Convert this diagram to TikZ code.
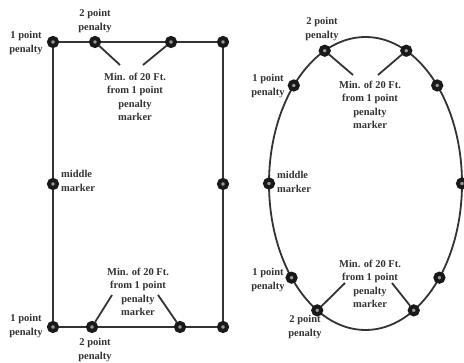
\documentclass[tikz,border=0pt]{standalone}
\usepackage{fontspec}
\setmainfont{Liberation Serif}
\begin{document}
\begin{tikzpicture}[x=1pt,y=-1pt,
  mk/.style={circle,draw=black!90,line width=4pt,fill=black!40,minimum size=8pt,inner sep=0pt},
  lbl/.style={align=center,inner sep=0pt,text=black!80,font=\fontsize{10.5}{13.3}\selectfont\bfseries},
  lbll/.style={lbl,align=left,anchor=west},
  fld/.style={draw=black!80,line width=1.8pt},
  ldr/.style={draw=black!80,line width=1.8pt}]
\useasboundingbox (0,0) rectangle (464,363);
% ---------- rectangle field ----------
\node[mk] (tl) at (53,42) {};
\node[mk] (t1) at (95,42) {};
\node[mk] (t2) at (171,42) {};
\node[mk] (tr) at (223,42) {};
\node[mk] (ml) at (53,184) {};
\node[mk] (mr) at (223,184) {};
\node[mk] (bl) at (53,327) {};
\node[mk] (b1) at (92,327) {};
\node[mk] (b2) at (180,327) {};
\node[mk] (br) at (223,327) {};
\path[fld] (tl) -- (t1) -- (t2) -- (tr) -- (mr) -- (br) -- (b2) -- (b1) -- (bl) -- (ml) -- (tl);
\coordinate (rla) at (120,65);
\coordinate (rlb) at (143,65);
\coordinate (rlc) at (112,295);
\coordinate (rld) at (158,295);
\path[ldr] (t1) -- (rla);
\path[ldr] (t2) -- (rlb);
\path[ldr] (b1) -- (rlc);
\path[ldr] (b2) -- (rld);
\node[lbl] (rt2) at (95,21) {2 point\\penalty};
\node[lbl] (rt1) at (26,43) {1 point\\penalty};
\node[lbl] (rtm) at (135,97) {Min. of 20 Ft.\\from 1 point\\penalty\\marker};
\node[lbll] (rmm) at (61,181) {middle\\marker};
\node[lbl] (rbm) at (138,292) {Min. of 20 Ft.\\from 1 point\\penalty\\marker};
\node[lbl] (rb1) at (26,326) {1 point\\penalty};
\node[lbl] (rb2) at (95,350) {2 point\\penalty};
% ---------- oval field ----------
\draw[fld] (365.5,183.5) ellipse [x radius=96.5pt, y radius=146.5pt];
\foreach \a/\n in {0/e0,42/e42,65/e65,115/e115,138/e138,180/e180,220/e220,240/e240,300/e300,320/e320}
  \node[mk] (\n) at ({365.5+96.5*cos(\a)},{183.5-146.5*sin(\a)}) {};
\coordinate (ela) at (353,75);
\coordinate (elb) at (378,75);
\coordinate (elc) at (345,283);
\coordinate (eld) at (392,283);
\path[ldr] (e115) -- (ela);
\path[ldr] (e65) -- (elb);
\path[ldr] (e240) -- (elc);
\path[ldr] (e300) -- (eld);
\node[lbl] (et2) at (322,29) {2 point\\penalty};
\node[lbl] (et1) at (268,86) {1 point\\penalty};
\node[lbl] (etm) at (370,105) {Min. of 20 Ft.\\from 1 point\\penalty\\marker};
\node[lbll] (emm) at (277,182) {middle\\marker};
\node[lbl] (eb1) at (268,280) {1 point\\penalty};
\node[lbl] (eb2) at (305,327) {2 point\\penalty};
\node[lbl] (ebm) at (370,284) {Min. of 20 Ft.\\from 1 point\\penalty\\marker};
\end{tikzpicture}
\end{document}
